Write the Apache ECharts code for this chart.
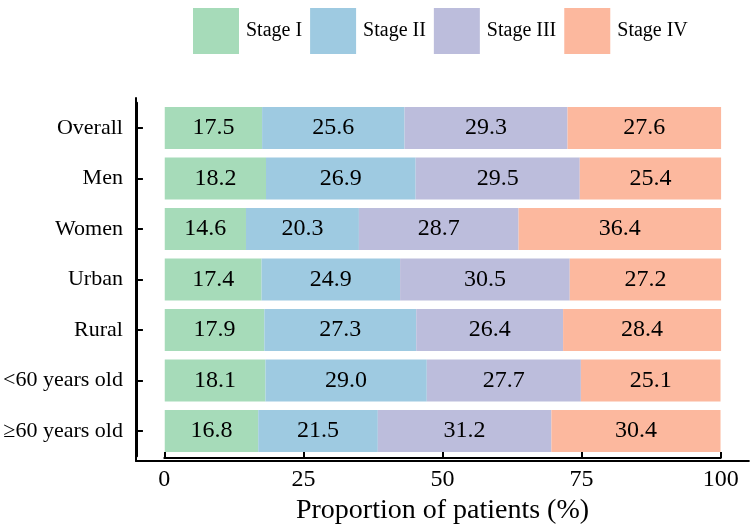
<!DOCTYPE html>
<html>
<head>
<meta charset="utf-8">
<script src="https://cdn.jsdelivr.net/npm/echarts@6/dist/echarts.min.js"></script>
<style>html,body{margin:0;padding:0;background:#fff}#c{width:750px;height:530px}</style>
</head>
<body>
<div id="c"></div>
<script>
const categories = ['Overall', 'Men', 'Women', 'Urban', 'Rural', '<60 years old', '\u226560 years old'];
const stageNames = ['Stage I', 'Stage II', 'Stage III', 'Stage IV'];
const stage1 = [17.5, 18.2, 14.6, 17.4, 17.9, 18.1, 16.8];
const stage2 = [25.6, 26.9, 20.3, 24.9, 27.3, 29.0, 21.5];
const stage3 = [29.3, 29.5, 28.7, 30.5, 26.4, 27.7, 31.2];
const stage4 = [27.6, 25.4, 36.4, 27.2, 28.4, 25.1, 30.4];
const xTicks = [0, 25, 50, 75, 100];
const colors = ['#a6dbb9', '#9ecae1', '#bcbddc', '#fcb89e'];

const FONT = '"Liberation Serif", "DejaVu Serif", serif';
const chart = echarts.init(document.getElementById('c'), null, {renderer: 'canvas'});
const data = [stage1, stage2, stage3, stage4];
const LINE = {color: '#000', width: 2};

const option = {
  animation: false,
  backgroundColor: '#fff',
  textStyle: {fontFamily: FONT},
  legend: {
    top: 3, left: 188,
    itemWidth: 46, itemHeight: 46, itemGap: 8,
    icon: 'rect',
    data: stageNames,
    textStyle: {fontFamily: FONT, fontSize: 20, color: '#000', padding: [0, 0, 0, 2]}
  },
  grid: [
    {left: 136, right: 1.1, top: 98, bottom: 69},
    {left: 136, right: 1.1, top: 102.75, bottom: 73.75},
    {left: 164.3, right: 29.3, top: 98, bottom: 69}
  ],
  xAxis: [
    {gridIndex: 0, type: 'value', min: 0, max: 1,
     axisLine: {show: true, lineStyle: LINE},
     axisTick: {show: false}, axisLabel: {show: false}, splitLine: {show: false}},
    {gridIndex: 1, type: 'value', min: -5, max: 105, show: false},
    {gridIndex: 2, type: 'value', position: 'bottom', min: xTicks[0], max: xTicks[xTicks.length - 1], interval: 25,
     axisLine: {show: true, lineStyle: LINE},
     axisTick: {show: true, inside: true, length: 6, lineStyle: LINE},
     axisLabel: {show: true, fontFamily: FONT, fontSize: 24, color: '#000', margin: 10},
     splitLine: {show: false},
     name: 'Proportion of patients (%)', nameLocation: 'middle', nameGap: 26,
     nameTextStyle: {fontFamily: FONT, fontSize: 28, color: '#000'}},
    {gridIndex: 1, type: 'value', min: 0, max: 1, show: false}
  ],
  yAxis: [
    {gridIndex: 0, type: 'value', min: 0, max: 1,
     axisLine: {show: true, lineStyle: LINE},
     axisTick: {show: false}, axisLabel: {show: false}, splitLine: {show: false}},
    {gridIndex: 1, type: 'category', position: 'left', data: categories, inverse: true,
     axisLine: {show: true, onZeroAxisIndex: 3, lineStyle: LINE},
     axisTick: {show: true, inside: true, alignWithLabel: true, length: 6, lineStyle: LINE},
     axisLabel: {fontFamily: FONT, fontSize: 22, color: '#000', margin: 14},
     splitLine: {show: false}},
    {gridIndex: 2, type: 'value', min: 0, max: 1, show: false}
  ],
  series: stageNames.map((name, i) => ({
    name: name,
    type: 'bar',
    stack: 'total',
    xAxisIndex: 1, yAxisIndex: 1,
    barWidth: 42,
    itemStyle: {color: colors[i]},
    label: {show: true, position: 'inside', fontFamily: FONT, fontSize: 24, color: '#000',
      formatter: p => p.value.toFixed(1)},
    data: data[i]
  }))
};
chart.setOption(option);
</script>
</body>
</html>
